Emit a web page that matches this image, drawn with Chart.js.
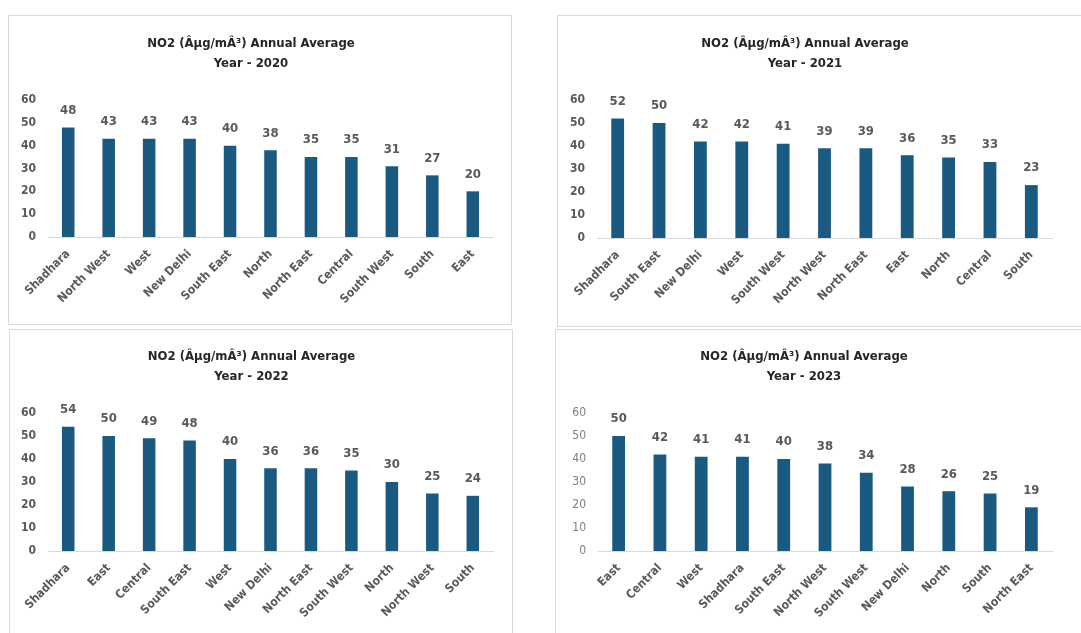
<!DOCTYPE html>
<html lang="en">
<head>
    <meta charset="UTF-8">
    <title>NO2 Annual Average</title>
    <script src="https://cdn.jsdelivr.net/npm/chart.js"></script>
    <style>
        html, body { margin: 0; padding: 0; background: #fff; overflow: hidden; }
        body { width: 1081px; height: 633px; position: relative; }
        .panel { position: absolute; border: 1px solid #d9d9d9; background: #fff; box-sizing: border-box; }
        .panel canvas { display: block; }
    </style>
</head>
<body>
    <div class="panel" style="left:8px; top:15px; width:504px; height:310px;"><canvas id="c2020"></canvas></div>
    <div class="panel" style="left:557px; top:15px; width:530px; height:312px;"><canvas id="c2021"></canvas></div>
    <div class="panel" style="left:9px; top:329px; width:504px; height:310px;"><canvas id="c2022"></canvas></div>
    <div class="panel" style="left:555px; top:329px; width:530px; height:310px;"><canvas id="c2023"></canvas></div>

    <script>
        // districts and NO2 values
        const districts2020 = ['Shadhara', 'North West', 'West', 'New Delhi', 'South East', 'North', 'North East', 'Central', 'South West', 'South', 'East'];
        const values2020 = [48, 43, 43, 43, 40, 38, 35, 35, 31, 27, 20];

        const districts2021 = ['Shadhara', 'South East', 'New Delhi', 'West', 'South West', 'North West', 'North East', 'East', 'North', 'Central', 'South'];
        const values2021 = [52, 50, 42, 42, 41, 39, 39, 36, 35, 33, 23];

        const districts2022 = ['Shadhara', 'East', 'Central', 'South East', 'West', 'New Delhi', 'North East', 'South West', 'North', 'North West', 'South'];
        const values2022 = [54, 50, 49, 48, 40, 36, 36, 35, 30, 25, 24];

        const districts2023 = ['East', 'Central', 'West', 'Shadhara', 'South East', 'North West', 'South West', 'New Delhi', 'North', 'South', 'North East'];
        const values2023 = [50, 42, 41, 41, 40, 38, 34, 28, 26, 25, 19];

        const yTicks = [0, 10, 20, 30, 40, 50, 60];
        const titleLine = 'NO2 (\u00C2\u00B5g/m\u00C2\u00B3) Annual Average';

        const FONT = "'Liberation Sans Narrow', 'DejaVu Sans Condensed', 'Arial Narrow', sans-serif";

        // draws the value above each bar
        const valueLabels = {
            id: 'valueLabels',
            afterDatasetsDraw(chart) {
                const ctx = chart.ctx;
                const meta = chart.getDatasetMeta(0);
                const data = chart.data.datasets[0].data;
                ctx.save();
                ctx.font = 'bold 13px ' + FONT;
                ctx.fillStyle = '#595959';
                ctx.textAlign = 'center';
                ctx.textBaseline = 'middle';
                meta.data.forEach((bar, i) => {
                    ctx.fillText(data[i], bar.x, bar.y - 17);
                });
                ctx.restore();
            }
        };

        function makeChart(id, year, labels, values, geo) {
            const canvas = document.getElementById(id);
            canvas.width = geo.w;
            canvas.height = geo.h;
            canvas.style.width = geo.w + 'px';
            canvas.style.height = geo.h + 'px';

            new Chart(canvas.getContext('2d'), {
                type: 'bar',
                data: {
                    labels: labels,
                    datasets: [{
                        data: values,
                        backgroundColor: '#1a5a80',
                        barPercentage: 0.31,
                        categoryPercentage: 1
                    }]
                },
                options: {
                    responsive: false,
                    animation: false,
                    layout: { padding: { left: 0, right: geo.w - geo.right, top: 0, bottom: 0 } },
                    plugins: {
                        legend: { display: false },
                        tooltip: { enabled: false },
                        title: {
                            display: true,
                            text: [titleLine, 'Year - ' + year],
                            color: '#262626',
                            font: { family: FONT, size: 13, weight: 'bold', lineHeight: '20px' },
                            padding: { top: geo.top - 66, bottom: 26 }
                        }
                    },
                    scales: {
                        x: {
                            grid: { display: false, drawTicks: false },
                            border: { display: true, color: '#d9d9d9', width: 1 },
                            ticks: {
                                autoSkip: false,
                                minRotation: 45,
                                maxRotation: 45,
                                color: '#595959',
                                padding: 10,
                                font: { family: FONT, size: 12, weight: 'bold' }
                            },
                            afterFit(scale) { scale.height = geo.h - geo.bottom; }
                        },
                        y: {
                            min: 0,
                            max: 60,
                            afterBuildTicks(scale) { scale.ticks = yTicks.map(v => ({ value: v })); },
                            grid: { display: false, drawTicks: false },
                            border: { display: false },
                            ticks: {
                                color: geo.lightTicks ? '#7f7f7f' : '#595959',
                                padding: 12,
                                font: { family: FONT, size: 12, weight: geo.lightTicks ? 'normal' : 'bold' }
                            },
                            afterFit(scale) { scale.width = geo.left; }
                        }
                    }
                },
                plugins: [valueLabels]
            });
        }

        makeChart('c2020', 2020, districts2020, values2020, { w: 502, h: 308, left: 39, right: 484, top: 84, bottom: 221 });
        makeChart('c2021', 2021, districts2021, values2021, { w: 528, h: 310, left: 39, right: 494, top: 84, bottom: 222 });
        makeChart('c2022', 2022, districts2022, values2022, { w: 502, h: 308, left: 38, right: 483, top: 83, bottom: 221 });
        makeChart('c2023', 2023, districts2023, values2023, { w: 528, h: 308, left: 42, right: 496, top: 83, bottom: 221, lightTicks: true });
    </script>
</body>
</html>
